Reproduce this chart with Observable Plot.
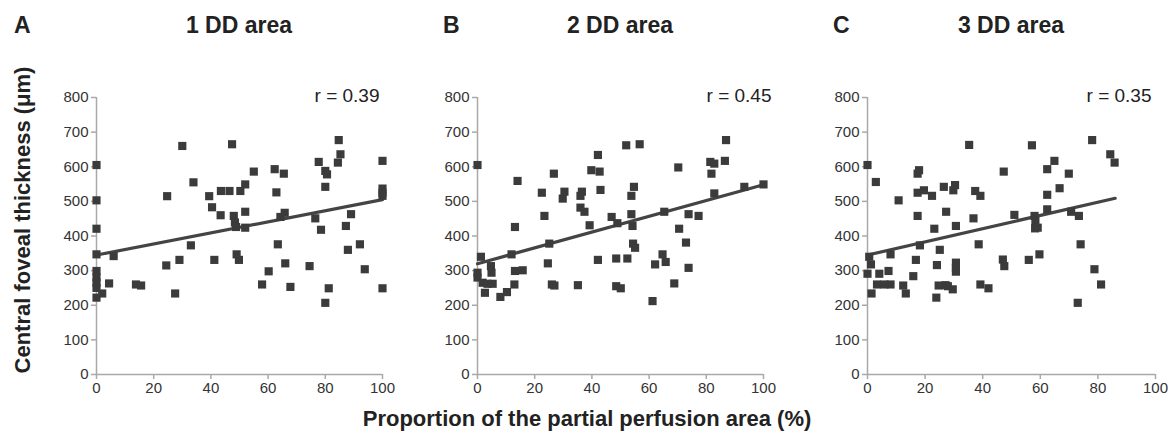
<!DOCTYPE html>
<html>
<head>
<meta charset="utf-8">
<script src="https://cdn.jsdelivr.net/npm/d3@7"></script>
<script src="https://cdn.jsdelivr.net/npm/@observablehq/plot@0.6"></script>
<style>
  html, body { margin: 0; padding: 0; background: #fff; }
  #root { position: relative; width: 1170px; height: 438px; font-family: "Liberation Sans", Arial, sans-serif; overflow: hidden; }
  .panel { position: absolute; top: 80px; }
  #overlay { position: absolute; left: 0; top: 0; }
</style>
</head>
<body>
<div id="root">
  <svg id="overlay" width="1170" height="438"></svg>
  <div class="panel" id="pA" style="left:46px"></div>
  <div class="panel" id="pB" style="left:427px"></div>
  <div class="panel" id="pC" style="left:817px"></div>
</div>
<script>
// ---- Data ----
const panelLetters = ["A", "B", "C"];
const panelTitles = ["1 DD area", "2 DD area", "3 DD area"];
const rLabels = ["r = 0.39", "r = 0.45", "r = 0.35"];
const xTicks = [0, 20, 40, 60, 80, 100];
const yTicks = [0, 100, 200, 300, 400, 500, 600, 700, 800];
const yTitle = "Central foveal thickness (μm)";
const xTitle = "Proportion of the partial perfusion area (%)";

// Panel A: 1 DD area
const aX = [0,0,0,0,0,0,0,0,0,2,4.4,6,13.8,15.6,24.4,24.7,27.5,29,30,33.9,33,39.4,40.4,41.2,
  43.4,43.5,46.5,50.3,47.4,48,48.4,48.8,49,49.8,52,52,52,55,57.9,60.2,62.3,62.9,65.5,63.4,64.3,65.8,66,67.8,
  74.5,76.5,77.7,78.5,80,80.6,80,80,81.2,84.7,85.3,84.4,87.2,87.9,89,92.1,93.8,100,100,100,100,100];
const aY = [605,503,421,347,299,280,265,250,222,234,263,342,260,257,315,515,234,331,660,555,373,515,483,331,
  460,530,530,530,665,458,439,426,347,331,549,470,424,586,260,298,593,526,580,376,455,467,321,253,
  313,451,614,418,588,578,542,207,249,677,636,612,429,360,463,376,304,617,537,525,516,249];
const aTrendX = [0, 100];
const aTrendY = [345, 505];

// Panel B: 2 DD area
const bX = [0,0,0,1.2,1.8,2.6,3.5,4.7,4.9,5.3,8,10.3,11.9,12.9,13.1,13.1,14,15.8,22.5,23.4,24.6,25.1,26,26.9,26.7,
  29.8,30.4,36,36.5,36,37.4,35.1,39.2,39.8,42.1,42.7,43,42.1,46.9,48.5,48.5,50.1,48.9,52,52.4,53.8,53.8,54.7,
  54.2,54.4,55.1,56.7,61.2,62.1,64.7,65.8,65.3,68.8,70.2,70.5,72.9,73.8,73.8,77.3,81.4,82.8,81.8,82.8,86.5,86.9,93.3,100];
const bY = [605,294,280,340,265,236,262,313,294,262,224,238,347,260,426,299,559,301,525,458,321,378,260,257,580,
  508,528,516,528,482,470,258,431,590,634,586,533,331,455,335,255,249,437,662,335,463,516,542,
  429,378,366,665,212,318,347,325,470,263,598,421,381,463,308,458,614,609,580,523,617,677,542,549];
const bTrendX = [0, 100];
const bTrendY = [320, 548];

// Panel C: 3 DD area
const cX = [0,10.8,2.9,0.6,1.2,0,1.4,3.3,4.1,5.9,7.3,8,8,12.4,13.3,15.9,16.8,17.4,17.4,17.4,17.9,18.2,19.6,22.4,
  23.2,23.9,24.1,24.7,25.1,26.5,27.1,27.3,27.9,29.6,29.8,30.4,30.7,30.7,30.7,30.7,35.3,36.8,37.4,38.6,39.2,39.2,
  42,47.3,47,47.5,51,56,57.1,58,58.3,58.2,59.1,59.7,62.4,62.4,62.4,64.9,66.7,69.9,70.7,73.4,74,73,78,78.8,81.1,84.3,85.8];
const cY = [605,503,556,340,318,291,234,260,291,260,299,260,347,257,234,284,331,458,525,580,590,373,532,516,
  421,222,316,257,360,542,258,470,255,246,532,547,429,323,308,297,663,451,530,376,260,516,
  249,586,332,313,461,331,662,458,443,422,424,347,593,519,477,617,538,580,470,458,376,207,677,304,260,636,612];
const cTrendX = [0, 86];
const cTrendY = [345, 509];

// ---- Build tables ----
function pts(xs, ys) { return xs.map((x, i) => ({x, y: ys[i]})); }
const panels = [
  {el: "#pA", pts: pts(aX, aY), trend: pts(aTrendX, aTrendY), r: rLabels[0], plotW: 286, mr: 14, rdx: -3},
  {el: "#pB", pts: pts(bX, bY), trend: pts(bTrendX, bTrendY), r: rLabels[1], plotW: 286, mr: 14, rdx: 8},
  {el: "#pC", pts: pts(cX, cY), trend: pts(cTrendX, cTrendY), r: rLabels[2], plotW: 288, mr: 12, rdx: -4}
];

const axisGray = "#a9a9a9";
const ink = "#3b3b3b";

for (const p of panels) {
  const ml = 50, mt = 17, mb = 26;
  const chart = Plot.plot({
    width: ml + p.plotW + p.mr,
    height: 320,
    marginLeft: ml, marginRight: p.mr, marginTop: mt, marginBottom: mb,
    style: {fontFamily: '"Liberation Sans", Arial, sans-serif', fontSize: "15px", color: "#333", background: "transparent", overflow: "visible"},
    x: {domain: [0, 100]},
    y: {domain: [0, 800]},
    marks: [
      Plot.ruleX([0], {stroke: axisGray, strokeWidth: 1.5}),
      Plot.ruleY([0], {stroke: axisGray, strokeWidth: 1.5}),
      Plot.axisX({ticks: xTicks, tickSize: 5, tickPadding: 3, stroke: axisGray, strokeWidth: 1.5, fill: "#333", label: null}),
      Plot.axisY({ticks: yTicks, tickSize: 5, tickPadding: 3, stroke: axisGray, strokeWidth: 1.5, fill: "#333", label: null}),
      Plot.line(p.trend, {x: "x", y: "y", stroke: "#444", strokeWidth: 3.2, strokeLinecap: "round"}),
      Plot.dot(p.pts, {x: "x", y: "y", symbol: "square", r: 4.6, fill: ink, stroke: "none"}),
      Plot.text([p.r], {frameAnchor: "top-right", textAnchor: "end", lineAnchor: "bottom", dy: 4, dx: p.rdx, fontSize: 19, fill: "#222"})
    ]
  });
  document.querySelector(p.el).append(chart);
}

// ---- Overlay texts: panel letters, titles, axis titles ----
const ov = d3.select("#overlay");
const fam = '"Liberation Sans", Arial, sans-serif';
const letterX = [14, 443, 833];
const titleCX = [239, 620, 1011];
panelLetters.forEach((t, i) => {
  ov.append("text").attr("x", letterX[i]).attr("y", 33).attr("font-family", fam).attr("font-size", 23)
    .attr("font-weight", "bold").attr("fill", "#222").text(t);
  ov.append("text").attr("x", titleCX[i]).attr("y", 33).attr("text-anchor", "middle").attr("font-family", fam)
    .attr("font-size", 23).attr("font-weight", "bold").attr("fill", "#222").text(panelTitles[i]);
});
ov.append("text").attr("transform", "translate(30,220) rotate(-90)").attr("text-anchor", "middle")
  .attr("font-family", fam).attr("font-size", 22).attr("font-weight", "bold").attr("fill", "#222").text(yTitle);
ov.append("text").attr("x", 587).attr("y", 426).attr("text-anchor", "middle")
  .attr("font-family", fam).attr("font-size", 22).attr("font-weight", "bold").attr("fill", "#222").text(xTitle);
</script>
</body>
</html>
